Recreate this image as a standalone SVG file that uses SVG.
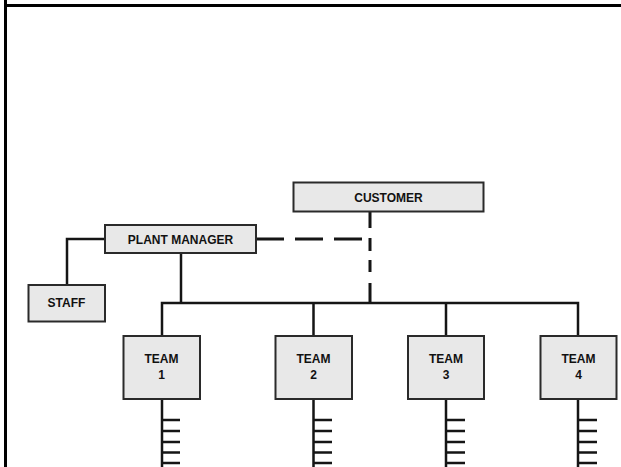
<svg xmlns="http://www.w3.org/2000/svg" width="621" height="467" viewBox="0 0 621 467">
<style>
.box{fill:#e8e8e8;stroke:#2a2a2a;stroke-width:2}
.lbl{font-family:"Liberation Sans",Arial,sans-serif;font-weight:bold;font-size:12px;fill:#111;text-anchor:middle}
.ln{fill:none;stroke:#151515;stroke-width:2.5}
.dash{fill:none;stroke:#151515;stroke-width:3}
.frame{fill:none;stroke:#000;stroke-width:3}
</style>
<rect width="621" height="467" fill="#fff"/>
<g id="frame">
<path class="frame" d="M5.5,0 V467 M4,5.5 H621"/>
</g>
<g id="connectors">
<path class="ln" d="M105,239 H67 V285"/>
<path class="ln" d="M181,253 V303"/>
<path class="ln" d="M162,336 V303 H578 V336 M313.5,303 V336 M446,303 V336"/>
<path class="dash" d="M256,239 H362" stroke-dasharray="28 11"/>
<path class="dash" d="M370,212 V303" stroke-dasharray="16 10 13 9 12 11 22"/>
<path class="ln" d="M162,399 V467 M162,420 H180 M162,431 H180 M162,442 H180 M162,452.5 H180 M162,463 H180"/>
<path class="ln" d="M313.5,399 V467 M313.5,420 H332 M313.5,431 H332 M313.5,442 H332 M313.5,452.5 H332 M313.5,463 H332"/>
<path class="ln" d="M446,399 V467 M446,420 H465 M446,431 H465 M446,442 H465 M446,452.5 H465 M446,463 H465"/>
<path class="ln" d="M578,399 V467 M578,420 H597 M578,431 H597 M578,442 H597 M578,452.5 H597 M578,463 H597"/>
</g>
<g id="customer">
<rect class="box" x="293.5" y="182.5" width="190" height="29"/>
<text class="lbl" x="388.5" y="201.5">CUSTOMER</text>
</g>
<g id="plant-manager">
<rect class="box" x="105" y="225" width="151" height="28"/>
<text class="lbl" x="180.5" y="243.5">PLANT MANAGER</text>
</g>
<g id="staff">
<rect class="box" x="28.5" y="285" width="76.5" height="36.5"/>
<text class="lbl" x="66.5" y="307">STAFF</text>
</g>
<g id="team1">
<rect class="box" x="123.5" y="336" width="76.5" height="63"/>
<text class="lbl" x="161.5" y="363">TEAM</text>
<text class="lbl" x="161.5" y="379">1</text>
</g>
<g id="team2">
<rect class="box" x="275.5" y="336" width="76.5" height="63"/>
<text class="lbl" x="313.5" y="363">TEAM</text>
<text class="lbl" x="313.5" y="379">2</text>
</g>
<g id="team3">
<rect class="box" x="408" y="336" width="76" height="63"/>
<text class="lbl" x="446" y="363">TEAM</text>
<text class="lbl" x="446" y="379">3</text>
</g>
<g id="team4">
<rect class="box" x="540.5" y="336" width="76" height="63"/>
<text class="lbl" x="578.5" y="363">TEAM</text>
<text class="lbl" x="578.5" y="379">4</text>
</g>
</svg>
